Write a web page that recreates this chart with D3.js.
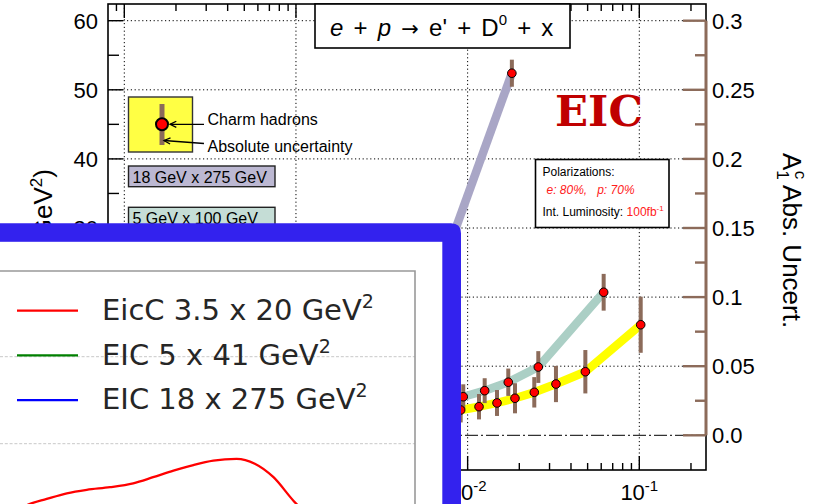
<!DOCTYPE html>
<html><head><meta charset="utf-8">
<script src="https://cdn.jsdelivr.net/npm/d3@7"></script>
<style>body{margin:0;background:#fff}svg{display:block}</style>
</head><body><svg id="c" width="833" height="504" font-family="'Liberation Sans',Arial,sans-serif"></svg>
<script>
// ---------- data ----------
const decadeExponents = [-4, -3, -2, -1];
const leftTicks = [0, 10, 20, 30, 40, 50, 60];
const rightTicks = [0, 0.05, 0.1, 0.15, 0.2, 0.25, 0.3];
const rightTickLabels = ["0.0", "0.05", "0.1", "0.15", "0.2", "0.25", "0.3"];

const lavX = [0.0064, 0.0181];
const lavY = [0.107, 0.262];
const lavErr = [0.010, 0.0098];

const grnX = [0.00943, 0.01257, 0.01725, 0.0258, 0.0620];
const grnY = [0.0279, 0.0323, 0.0384, 0.0494, 0.1035];
const grnErr = [0.009, 0.009, 0.0099, 0.0115, 0.0133];

const ylwX = [0.00911, 0.01165, 0.01483, 0.01887, 0.02445, 0.0327, 0.0485, 0.1019];
const ylwY = [0.0183, 0.0207, 0.0234, 0.0268, 0.0311, 0.0371, 0.046, 0.080];
const ylwErr = [0.009, 0.0092, 0.0094, 0.0109, 0.011, 0.0131, 0.0157, 0.0203];

const energyLabels = ["18 GeV x 275 GeV", "5 GeV x 100 GeV"];

const insetLegend = ["EicC 3.5 x 20 GeV", "EIC 5 x 41 GeV", "EIC 18 x 275 GeV"];
const insetGrid = [0.8, 1.0];
const insetCurveX = [4.8, 6.8, 11.25, 16.1, 20.9, 26.5, 32.1, 36.9, 41.8, 46.6, 51.4, 57.0, 61.4, 65.9, 70.7, 72.5];
const insetCurveY = [0.651, 0.660, 0.673, 0.686, 0.694, 0.700, 0.709, 0.723, 0.738, 0.751, 0.761, 0.765, 0.754, 0.723, 0.669, 0.651];

// ---------- setup ----------
const svg = d3.select("#c");
const F = {l: 108, r: 706, t: 4, b: 470};
const x = d3.scaleLog().domain([1e-4, 1e-1]).range([124.3, 639.3]);
const yL = d3.scaleLinear().domain([0, 60]).range([435.3, 20.7]);
const yR = d3.scaleLinear().domain([0, 0.3]).range([435.3, 20.7]);
const brown = "#8c6b5a";

// grid
const g = svg.append("g");
decadeExponents.forEach(e => {
  g.append("line").attr("x1", x(Math.pow(10, e))).attr("x2", x(Math.pow(10, e)))
    .attr("y1", F.t).attr("y2", F.b).attr("stroke", "#000").attr("stroke-width", 1).attr("stroke-dasharray", "1.2,2.6");
});
rightTicks.filter(v => v > 0).forEach(v => {
  g.append("line").attr("x1", F.l).attr("x2", F.r).attr("y1", yR(v)).attr("y2", yR(v))
    .attr("stroke", "#000").attr("stroke-width", 1).attr("stroke-dasharray", "1.2,2.6");
});
g.append("line").attr("x1", F.l).attr("x2", F.r).attr("y1", yR(0)).attr("y2", yR(0))
  .attr("stroke", "#000").attr("stroke-width", 1).attr("stroke-dasharray", "13,3,2,3");

// series lines
const line = d3.line().x(d => x(d[0])).y(d => yR(d[1]));
function series(xs, ys, errs, color) {
  const pts = xs.map((v, i) => [v, ys[i], errs[i]]);
  svg.append("path").datum(pts).attr("d", line).attr("fill", "none")
    .attr("stroke", color).attr("stroke-width", 8.5).attr("stroke-linejoin", "round");
  return pts;
}
const all = [];
all.push(series(lavX, lavY, lavErr, "#a9a6c6"));
all.push(series(grnX, grnY, grnErr, "#abcfc5"));
all.push(series(ylwX, ylwY, ylwErr, "#ffff00"));
all.forEach(pts => {
  svg.append("g").selectAll("line").data(pts).join("line")
    .attr("x1", d => x(d[0])).attr("x2", d => x(d[0]))
    .attr("y1", d => yR(d[1] + d[2])).attr("y2", d => yR(d[1] - d[2]))
    .attr("stroke", brown).attr("stroke-width", 4);
});
all.forEach(pts => {
  svg.append("g").selectAll("circle").data(pts).join("circle")
    .attr("cx", d => x(d[0])).attr("cy", d => yR(d[1])).attr("r", 4.3)
    .attr("fill", "#ff0000").attr("stroke", "#000").attr("stroke-width", 1);
});

// frame
svg.append("rect").attr("x", F.l).attr("y", F.t).attr("width", F.r - F.l).attr("height", F.b - F.t)
  .attr("fill", "none").attr("stroke", "#000").attr("stroke-width", 1.6);

// x ticks (top & bottom, inward)
const xt = svg.append("g");
for (let e = -5; e <= 0; e++) {
  for (let k = 1; k <= 9; k++) {
    const v = k * Math.pow(10, e);
    const px = x(v);
    if (px <= F.l + 1 || px >= F.r - 1) continue;
    const len = k === 1 ? 14 : 7;
    xt.append("line").attr("x1", px).attr("x2", px).attr("y1", F.t).attr("y2", F.t + len).attr("stroke", "#000").attr("stroke-width", 1.4);
    xt.append("line").attr("x1", px).attr("x2", px).attr("y1", F.b).attr("y2", F.b - len).attr("stroke", "#000").attr("stroke-width", 1.4);
  }
}
decadeExponents.forEach(e => {
  const t = svg.append("text").attr("x", x(Math.pow(10, e))).attr("y", 500)
    .attr("text-anchor", "middle").attr("font-size", 22);
  t.append("tspan").text("10");
  t.append("tspan").attr("dy", -9).attr("font-size", 15).text("-" + Math.abs(e));
});

// left ticks
for (let v = -5; v <= 60; v += 5) {
  const len = v % 10 === 0 ? 15 : 11;
  svg.append("line").attr("x1", F.l).attr("x2", F.l + len).attr("y1", yL(v)).attr("y2", yL(v)).attr("stroke", "#000").attr("stroke-width", 1.4);
}
svg.append("g").selectAll("text").data(leftTicks).join("text")
  .attr("x", 98).attr("y", d => yL(d) + 8).attr("text-anchor", "end").attr("font-size", 22).text(d => d);
svg.append("text").attr("transform", "translate(52,169) rotate(-90)").attr("text-anchor", "end").attr("font-size", 26)
  .call(t => {
    t.append("tspan").text("Q");
    t.append("tspan").attr("dy", -10).attr("font-size", 17).text("2");
    t.append("tspan").attr("dy", 10).text(" (GeV");
    t.append("tspan").attr("dy", -10).attr("font-size", 17).text("2");
    t.append("tspan").attr("dy", 10).text(")");
  });

// right axis (brown)
svg.append("line").attr("x1", F.r).attr("x2", F.r).attr("y1", yR(0.3)).attr("y2", yR(0)).attr("stroke", brown).attr("stroke-width", 3);
for (let i = 0; i <= 12; i++) {
  const v = i * 0.025;
  const len = i % 2 === 0 ? 23 : 11;
  svg.append("line").attr("x1", F.r).attr("x2", F.r - len).attr("y1", yR(v)).attr("y2", yR(v)).attr("stroke", brown).attr("stroke-width", 2.4);
}
svg.append("g").selectAll("text").data(rightTicks).join("text")
  .attr("x", 712).attr("y", d => yR(d) + 8).attr("font-size", 22).text((d, i) => rightTickLabels[i]);
svg.append("text").attr("transform", "translate(783,153) rotate(90)").attr("font-size", 26)
  .call(t => {
    t.append("tspan").text("A");
    t.append("tspan").attr("dy", 6).attr("font-size", 17).text("1");
    t.append("tspan").attr("dx", -9).attr("dy", -18).attr("font-size", 17).text("c");
    t.append("tspan").attr("dy", 12).text(" Abs. Uncert.");
  });

// title box
svg.append("rect").attr("x", 315).attr("y", 4).attr("width", 255).attr("height", 44).attr("fill", "#fff").attr("stroke", "#000").attr("stroke-width", 1.6);
svg.append("text").attr("x", 330).attr("y", 36).attr("font-size", 24).style("white-space", "pre").style("word-spacing", "3.5px")
  .call(t => {
    t.append("tspan").attr("font-style", "italic").text("e");
    t.append("tspan").text(" + ");
    t.append("tspan").attr("font-style", "italic").text("p");
    t.append("tspan").text(" ");
    t.append("tspan").attr("font-family", "'DejaVu Sans',sans-serif").attr("font-size", 21).text("\u2192");
    t.append("tspan").text(" e' + D");
    t.append("tspan").attr("dy", -11).attr("font-size", 15).text("0");
    t.append("tspan").attr("dy", 11).text(" + x");
  });

// EIC
svg.append("text").attr("x", 555).attr("y", 126).attr("font-family", "'DejaVu Serif',serif").attr("font-weight", "bold")
  .attr("font-size", 43).attr("fill", "#c00000").attr("textLength", 88).attr("lengthAdjust", "spacingAndGlyphs").text("EIC");

// polarization box
svg.append("rect").attr("x", 535.5).attr("y", 159.5).attr("width", 133.5).attr("height", 68).attr("fill", "#fff").attr("stroke", "#000").attr("stroke-width", 1.6);
svg.append("text").attr("x", 542.5).attr("y", 176).attr("font-size", 12).text("Polarizations:");
svg.append("text").attr("x", 546.5).attr("y", 194).attr("font-size", 12).attr("font-style", "italic").attr("fill", "#ff2020")
  .style("white-space", "pre").text("e: 80%,   p: 70%");
svg.append("text").attr("x", 542.5).attr("y", 216).attr("font-size", 12)
  .call(t => {
    t.append("tspan").text("Int. Luminosity: ");
    t.append("tspan").attr("fill", "#ff2020").text("100fb");
    t.append("tspan").attr("fill", "#ff2020").attr("dy", -5).attr("font-size", 8).text("-1");
  });

// marker legend (yellow box)
svg.append("rect").attr("x", 128.5).attr("y", 97).attr("width", 64).attr("height", 55).attr("fill", "#ffff44").attr("stroke", "#333").attr("stroke-width", 1.4);
svg.append("line").attr("x1", 162).attr("x2", 162).attr("y1", 104).attr("y2", 145).attr("stroke", brown).attr("stroke-width", 5);
svg.append("circle").attr("cx", 162).attr("cy", 124.3).attr("r", 6).attr("fill", "#ff0000").attr("stroke", "#000").attr("stroke-width", 2);
function arrow(x1, y1, x2, y2) {
  svg.append("line").attr("x1", x1).attr("y1", y1).attr("x2", x2).attr("y2", y2).attr("stroke", "#000").attr("stroke-width", 1.3);
  const a = Math.atan2(y2 - y1, x2 - x1), L = 7, w = 0.45;
  svg.append("path").attr("d", `M${x2 - L * Math.cos(a - w)},${y2 - L * Math.sin(a - w)}L${x2},${y2}L${x2 - L * Math.cos(a + w)},${y2 - L * Math.sin(a + w)}`)
    .attr("fill", "none").attr("stroke", "#000").attr("stroke-width", 1.3);
}
arrow(204, 124.3, 170, 124.3);
arrow(204, 143.5, 164, 140.5);
svg.append("text").attr("x", 207.5).attr("y", 124.5).attr("font-size", 16).text("Charm hadrons");
svg.append("text").attr("x", 207.5).attr("y", 151.5).attr("font-size", 16).text("Absolute uncertainty");

// energy labels
const eFill = ["#bcb8d2", "#c5ddd6"];
energyLabels.forEach((lab, i) => {
  const y0 = 166 + i * 41.3;
  svg.append("rect").attr("x", 128.5).attr("y", y0).attr("width", 146.5).attr("height", 20.7).attr("fill", eFill[i]).attr("stroke", "#222").attr("stroke-width", 1.4);
  svg.append("text").attr("x", 132.5).attr("y", y0 + 16.5).attr("font-size", 16).text(lab);
});

// ---------- inset overlay ----------
const ix = d3.scaleLinear().domain([0, 100]).range([0, 415]);
const iy = d3.scaleLinear().domain([0.8, 1.0]).range([443.7, 356.7]);
svg.append("path").attr("d", "M-40,223.3H451Q461,223.3 461,233.3V560H-40Z").attr("fill", "#3322ee");
svg.append("rect").attr("x", -40).attr("y", 241.8).attr("width", 482.3).attr("height", 320).attr("fill", "#fff");
insetGrid.forEach(v => {
  svg.append("line").attr("x1", 0).attr("x2", 415).attr("y1", iy(v)).attr("y2", iy(v))
    .attr("stroke", "#c8c8c8").attr("stroke-width", 1).attr("stroke-dasharray", "3,1.8");
});
svg.append("path").datum(insetCurveX.map((v, i) => [v, insetCurveY[i]]))
  .attr("d", d3.line().curve(d3.curveMonotoneX).x(d => ix(d[0])).y(d => iy(d[1])))
  .attr("fill", "none").attr("stroke", "#ff0000").attr("stroke-width", 2.3);
svg.append("path").attr("d", "M-10,271H415V520").attr("fill", "none").attr("stroke", "#999").attr("stroke-width", 1.6);
const legColors = ["#ff0000", "#008000", "#0000ff"];
insetLegend.forEach((lab, i) => {
  const yy = 310.7 + i * 44.7;
  svg.append("line").attr("x1", 17).attr("x2", 78).attr("y1", yy).attr("y2", yy).attr("stroke", legColors[i]).attr("stroke-width", 2.2);
  const t = svg.append("text").attr("x", 102).attr("y", yy + 9.3).attr("font-family", "'DejaVu Sans',sans-serif")
    .attr("font-size", 29).attr("fill", "#262626");
  t.append("tspan").text(lab);
  t.append("tspan").attr("dy", -12).attr("font-size", 19).text("2");
});
</script></body></html>
